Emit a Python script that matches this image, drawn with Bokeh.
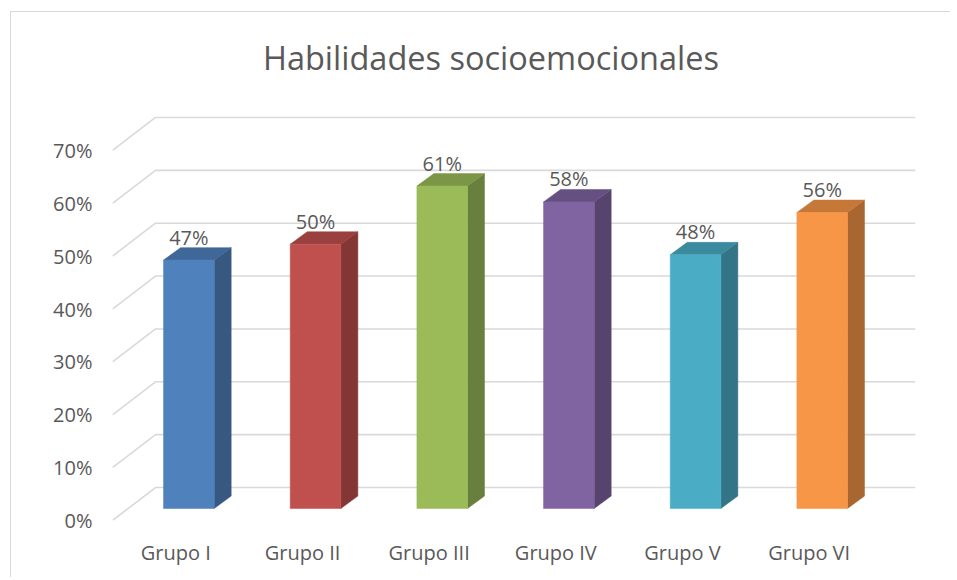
from bokeh.plotting import figure
from bokeh.models import Range1d, FixedTicker, PrintfTickFormatter, ColumnDataSource, Label
from bokeh.core.properties import value
from bokeh.embed import file_html
from bokeh.resources import INLINE

# ---- data ----
title_text = "Habilidades socioemocionales"
categories = ["Grupo I", "Grupo II", "Grupo III", "Grupo IV", "Grupo V", "Grupo VI"]
values = [47, 50, 61, 58, 48, 56]
y_ticks = [0, 10, 20, 30, 40, 50, 60, 70]
front_colors = ["#4F81BD", "#C0504D", "#9BBB59", "#8064A2", "#4BACC6", "#F79646"]
side_colors = ["#365881", "#833634", "#697F3D", "#57446E", "#337587", "#A86630"]
top_colors = ["#3F6797", "#9A403E", "#7C9647", "#665082", "#3C8A9E", "#C67838"]

n = len(categories)

# ---- 3D look (styles, in axis units) ----
WALL_DX, WALL_DY = 0.3395, 6.24     # depth of the floor / wall
BAR_OX, BAR_OY = 0.103, 2.27        # bar front face offset from front plane
BAR_W = 0.40                        # bar front width
BAR_DX, BAR_DY = 0.134, 2.35        # bar depth
TEXT = "#595959"
GRID = "#d9d9d9"
FONT = "Open Sans"

p = figure(width=940, height=566, title=None,
           x_range=Range1d(0, n + WALL_DX), y_range=Range1d(0, 96.1),
           output_backend="svg", toolbar_location=None,
           min_border_left=101, min_border_right=36,
           min_border_top=0, min_border_bottom=58)
p.margin = (11, 0, 0, 10)
p.styles = {"border-top": "1px solid #d9d9d9", "border-left": "1px solid #d9d9d9"}
p.outline_line_color = None
p.xgrid.visible = False
p.ygrid.visible = False
p.background_fill_color = "white"
p.border_fill_color = "white"

# chart title
p.add_layout(Label(x=2.988, y=87.6, text=title_text, text_align="center",
                   text_baseline="middle", text_font=FONT,
                   text_font_size="32.5px", text_color=TEXT))

# gridlines (front diagonal + back wall)
gx = [[0, WALL_DX, n + WALL_DX] for t in y_ticks]
gy = [[t, t + WALL_DY, t + WALL_DY] for t in y_ticks]
p.multi_line(gx, gy, line_color=GRID, line_width=1.6)

# bars
centers = [i + 0.5 for i in range(n)]
left = [c + BAR_OX - BAR_W / 2 for c in centers]
right = [c + BAR_OX + BAR_W / 2 for c in centers]
bottom = [BAR_OY for _ in centers]
top = [v + BAR_OY for v in values]

side_xs = [[r, r + BAR_DX, r + BAR_DX, r] for r in right]
side_ys = [[BAR_OY, BAR_OY + BAR_DY, t + BAR_DY, t] for t in top]
top_xs = [[l, r, r + BAR_DX, l + BAR_DX] for l, r in zip(left, right)]
top_ys = [[t, t, t + BAR_DY, t + BAR_DY] for t in top]

p.patches(side_xs, side_ys, fill_color=side_colors, line_color=side_colors, line_width=0.5)
p.patches(top_xs, top_ys, fill_color=top_colors, line_color=top_colors, line_width=0.5)
p.quad(left=left, right=right, bottom=bottom, top=top,
       fill_color=front_colors, line_color=front_colors, line_width=0.5)

# data labels
lbl = ColumnDataSource(dict(x=[c + BAR_OX for c in centers], y=top,
                            t=["%d%%" % v for v in values]))
p.text(x="x", y="y", text="t", source=lbl, text_align="center",
       text_baseline="middle", y_offset=-23, text_font=value(FONT),
       text_font_size="20px", text_color=TEXT)

# axes
p.yaxis.ticker = FixedTicker(ticks=y_ticks)
p.yaxis.formatter = PrintfTickFormatter(format="%d%%")
p.xaxis.ticker = FixedTicker(ticks=centers)
p.xaxis.major_label_overrides = {c: name for c, name in zip(centers, categories)}
for ax in (p.xaxis[0], p.yaxis[0]):
    ax.axis_line_color = None
    ax.major_tick_line_color = None
    ax.minor_tick_line_color = None
    ax.major_label_text_font = FONT
    ax.major_label_text_font_size = "20px"
    ax.major_label_text_color = TEXT
p.yaxis.major_label_standoff = 14
p.xaxis.major_label_standoff = 12

open("out.html", "w").write(file_html(p, INLINE))
